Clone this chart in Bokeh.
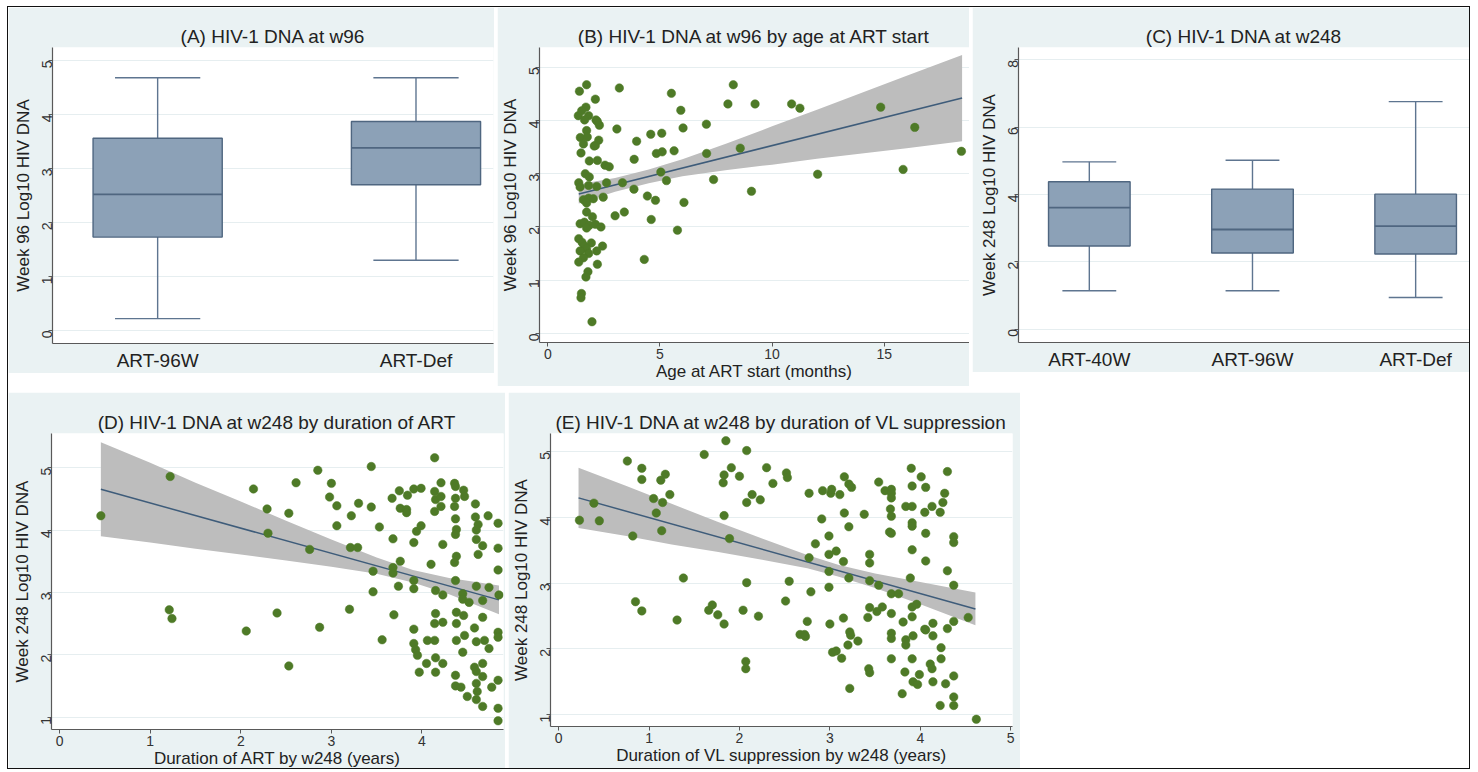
import math
from bokeh.plotting import figure
from bokeh.models import FixedTicker, Range1d, ColumnDataSource
from bokeh.layouts import row, column
from bokeh.embed import file_html
from bokeh.resources import INLINE

# ---------------- data ----------------
# (A) HIV-1 DNA at w96
a_groups = ["ART-96W", "ART-Def"]
a_lo = [0.22, 1.30]
a_q1 = [1.73, 2.70]
a_med = [2.52, 3.38]
a_q3 = [3.56, 3.87]
a_hi = [4.68, 4.68]

# (C) HIV-1 DNA at w248
c_groups = ["ART-40W", "ART-96W", "ART-Def"]
c_lo = [1.14, 1.14, 0.94]
c_q1 = [2.47, 2.26, 2.23]
c_med = [3.61, 2.96, 3.06]
c_q3 = [4.38, 4.16, 4.01]
c_hi = [4.97, 5.02, 6.76]

# (B) age at ART start (months) vs week-96 log10 HIV DNA
b_age = [1.41, 1.73, 2.12, 3.19, 5.51, 8.27, 8.03, 9.24, 10.87, 11.24, 14.84,
         1.70, 5.93, 1.36, 1.51, 1.82, 1.64, 2.15, 2.30, 2.21, 3.08, 6.03, 7.07,
         16.36, 1.73, 1.45, 1.59, 1.76, 4.59, 5.08, 3.96, 2.12, 2.27, 2.07, 1.48,
         5.63, 4.84, 5.10, 7.08, 8.58, 18.44, 1.85, 2.21, 3.85, 2.55, 2.74, 1.67,
         1.85, 5.04, 12.03, 15.84, 1.38, 1.44, 1.82, 2.18, 2.62, 3.33, 5.29, 7.39,
         3.84, 9.08, 1.59, 1.82, 2.03, 2.47, 4.44, 4.80, 6.07, 1.73, 1.73, 3.00,
         3.41, 4.61, 1.44, 1.63, 1.85, 1.99, 2.12, 2.37, 1.73, 5.78, 1.38, 1.53,
         1.94, 1.63, 2.44, 1.73, 1.82, 1.44, 2.18, 1.59, 1.38, 4.30, 2.21, 1.79,
         1.70, 1.50, 1.48, 1.97]
b_dna = [4.55, 4.67, 4.40, 4.61, 4.51, 4.67, 4.31, 4.31, 4.31, 4.23, 4.25,
         4.25, 4.19, 4.09, 4.18, 4.09, 4.01, 4.01, 3.91, 3.98, 3.84, 3.86, 3.93,
         3.87, 3.81, 3.68, 3.56, 3.69, 3.74, 3.76, 3.61, 3.53, 3.63, 3.52, 3.39,
         3.43, 3.38, 3.41, 3.38, 3.48, 3.42, 3.24, 3.25, 3.27, 3.16, 3.13, 3.00,
         2.94, 3.03, 2.99, 3.08, 2.83, 2.75, 2.78, 2.76, 2.83, 2.83, 2.87, 2.89,
         2.71, 2.67, 2.51, 2.54, 2.53, 2.56, 2.58, 2.50, 2.46, 2.45, 2.28, 2.21,
         2.28, 2.14, 2.06, 2.09, 2.03, 2.19, 2.05, 2.00, 1.98, 1.94, 1.78, 1.71,
         1.70, 1.64, 1.64, 1.59, 1.50, 1.55, 1.55, 1.42, 1.34, 1.39, 1.30, 1.16,
         1.06, 0.75, 0.67, 0.22]
b_fit_x = [1.38, 18.47]
b_fit_y = [2.62, 4.42]
b_ci_x = [1.38, 3.0, 4.5, 6.0, 8.0, 10.0, 12.0, 14.0, 16.0, 18.47]
b_ci_lo = [2.44, 2.66, 2.82, 2.95, 3.07, 3.17, 3.28, 3.38, 3.48, 3.61]
b_ci_hi = [2.80, 2.92, 3.08, 3.27, 3.57, 3.89, 4.20, 4.52, 4.84, 5.23]

# (D) duration of ART by w248 (years) vs week-248 log10 HIV DNA
d_dur = [0.455, 1.22, 1.21, 1.24, 2.06, 2.14, 2.29, 2.30, 2.40, 2.53, 2.53, 2.61,
         2.76, 2.85, 2.87, 2.98, 3.00, 3.06, 3.06, 3.20, 3.22, 3.21, 3.29, 3.30,
         3.44, 3.44, 3.46, 3.46, 3.53, 3.56, 3.67, 3.68, 3.68, 3.68, 3.69, 3.75,
         3.76, 3.76, 3.74, 3.83, 3.84, 3.83, 3.91, 3.91, 3.94, 3.91, 3.91, 3.91,
         3.91, 3.93, 3.95, 3.97, 3.99, 3.99, 4.05, 4.10, 4.06, 4.14, 4.14, 4.15,
         4.14, 4.15, 4.14, 4.14, 4.15, 4.15, 4.15, 4.21, 4.21, 4.21, 4.23, 4.23,
         4.23, 4.23, 4.36, 4.37, 4.37, 4.36, 4.37, 4.38, 4.37, 4.38, 4.36, 4.37,
         4.38, 4.38, 4.38, 4.37, 4.37, 4.46, 4.47, 4.45, 4.45, 4.46, 4.47, 4.45,
         4.43, 4.50, 4.52, 4.62, 4.59, 4.59, 4.60, 4.60, 4.62, 4.60, 4.58, 4.60,
         4.58, 4.60, 4.60, 4.61, 4.60, 4.67, 4.67, 4.67, 4.69, 4.67, 4.67, 4.67,
         4.73, 4.74, 4.74, 4.77, 4.84, 4.84, 4.84, 4.85, 4.84, 4.84, 4.84, 4.84,
         4.84]
d_dna = [4.23, 4.86, 2.72, 2.58, 2.38, 4.66, 4.34, 3.95, 2.67, 4.27, 1.82, 4.76,
         3.69, 4.96, 2.44, 4.53, 4.75, 4.39, 4.07, 2.73, 4.23, 3.72, 3.72, 4.43,
         5.02, 4.37, 3.34, 3.01, 4.05, 2.24, 4.51, 3.86, 3.40, 3.31, 2.64, 4.63,
         4.35, 3.50, 3.10, 4.33, 4.56, 4.28, 4.66, 3.80, 3.98, 3.19, 3.06, 2.41,
         2.18, 2.08, 1.99, 1.72, 4.67, 4.07, 1.86, 3.45, 2.23, 5.16, 4.62, 4.49,
         4.30, 2.66, 2.50, 2.23, 1.95, 1.72, 3.03, 4.76, 4.54, 4.38, 3.77, 2.96,
         2.52, 1.86, 4.75, 4.70, 4.51, 4.38, 4.18, 4.01, 3.93, 3.58, 3.48, 3.19,
         2.68, 2.50, 2.23, 1.67, 1.50, 4.64, 4.54, 2.98, 2.89, 2.63, 2.31, 2.04,
         1.48, 1.33, 2.84, 4.09, 4.42, 4.21, 4.00, 3.85, 3.61, 3.10, 2.43, 2.21,
         1.80, 1.73, 1.54, 1.41, 1.28, 3.75, 2.87, 2.60, 2.23, 1.86, 1.65, 1.17,
         4.23, 3.08, 2.10, 1.48, 4.11, 3.71, 3.36, 2.96, 2.36, 2.28, 1.59, 1.14,
         0.94]
d_fit_x = [0.455, 4.85]
d_fit_y = [4.655, 2.88]
d_ci_x = [0.455, 1.0, 1.5, 2.0, 2.5, 3.0, 3.5, 3.9, 4.3, 4.85]
d_ci_lo = [3.90, 3.80, 3.70, 3.61, 3.51, 3.41, 3.30, 3.16, 2.97, 2.65]
d_ci_hi = [5.41, 5.08, 4.76, 4.46, 4.15, 3.85, 3.56, 3.36, 3.23, 3.11]

# (E) duration of VL suppression by w248 (years) vs week-248 log10 HIV DNA
e_dur = [0.23, 0.39, 0.45, 0.76, 0.82, 0.85, 0.92, 0.92, 0.92, 1.05, 1.08, 1.13,
         1.18, 1.15, 1.14, 1.23, 1.31, 1.38, 1.61, 1.66, 1.70, 1.76, 1.83, 1.82,
         1.83, 1.83, 1.85, 1.89, 1.91, 2.00, 2.04, 2.08, 2.08, 2.08, 2.07, 2.07,
         2.14, 2.21, 2.23, 2.30, 2.37, 2.52, 2.53, 2.51, 2.55, 2.67, 2.72, 2.73,
         2.75, 2.77, 2.77, 2.79, 2.84, 2.91, 2.92, 2.99, 2.99, 2.99, 2.99, 3.00,
         3.01, 3.02, 3.03, 3.07, 3.07, 3.11, 3.13, 3.15, 3.15, 3.16, 3.16, 3.21,
         3.21, 3.20, 3.21, 3.24, 3.22, 3.23, 3.22, 3.31, 3.38, 3.42, 3.44, 3.44,
         3.44, 3.44, 3.43, 3.44, 3.54, 3.54, 3.52, 3.58, 3.61, 3.68, 3.68, 3.68,
         3.67, 3.68, 3.66, 3.68, 3.68, 3.68, 3.68, 3.68, 3.68, 3.76, 3.81, 3.80,
         3.84, 3.84, 3.84, 3.83, 3.89, 3.90, 3.91, 3.91, 3.91, 3.91, 3.91, 3.91,
         3.91, 3.92, 3.91, 3.92, 3.96, 3.97, 3.99, 4.01, 4.05, 4.06, 4.06, 4.06,
         4.05, 4.06, 4.11, 4.13, 4.13, 4.14, 4.14, 4.14, 4.22, 4.22, 4.23, 4.23,
         4.25, 4.27, 4.30, 4.30, 4.30, 4.28, 4.37, 4.37, 4.37, 4.37, 4.37, 4.37,
         4.37, 4.53, 4.62]
e_dna = [3.96, 4.22, 3.95, 4.86, 3.72, 2.72, 4.75, 4.58, 2.58, 4.29, 4.07, 4.57,
         4.66, 4.23, 3.80, 4.35, 2.44, 3.08, 4.96, 2.59, 2.67, 2.52, 2.38, 4.53,
         4.65, 4.03, 5.17, 3.68, 4.76, 4.63, 2.59, 5.02, 4.23, 3.01, 1.81, 1.70,
         4.35, 2.50, 4.27, 4.76, 4.52, 4.68, 4.61, 2.73, 3.03, 2.22, 2.22, 2.19,
         2.42, 4.37, 3.39, 2.87, 3.60, 3.98, 4.41, 3.72, 3.44, 3.18, 2.94, 2.38,
         4.37, 4.43, 1.95, 1.97, 3.49, 4.35, 1.86, 2.47, 3.33, 4.62, 4.07, 3.08,
         3.86, 2.06, 4.51, 4.46, 2.26, 2.21, 1.40, 2.12, 4.05, 2.48, 3.44, 3.31,
         3.04, 2.63, 1.70, 1.64, 4.54, 2.97, 2.57, 2.64, 4.41, 4.43, 4.37, 4.30,
         4.13, 4.02, 3.78, 3.76, 2.84, 2.54, 2.24, 2.16, 1.85, 2.84, 2.41, 1.32,
         4.17, 2.14, 2.06, 1.65, 3.08, 4.75, 4.48, 4.17, 3.92, 3.87, 3.51, 2.64,
         2.49, 2.20, 1.85, 1.50, 2.68, 1.46, 1.61, 4.62, 4.08, 4.46, 3.76, 3.34,
         2.30, 2.29, 1.77, 1.70, 4.17, 2.39, 2.20, 1.50, 1.14, 4.08, 2.02, 1.85,
         4.23, 4.37, 4.70, 3.19, 2.31, 1.47, 3.71, 3.62, 2.97, 2.42, 1.59, 1.27,
         1.14, 2.48, 0.93]
e_fit_x = [0.22, 4.61]
e_fit_y = [4.30, 2.61]
e_ci_x = [0.22, 0.75, 1.25, 1.75, 2.25, 2.75, 3.1, 3.5, 4.0, 4.61]
e_ci_lo = [3.84, 3.72, 3.59, 3.48, 3.36, 3.23, 3.10, 2.93, 2.68, 2.36]
e_ci_hi = [4.76, 4.48, 4.21, 3.94, 3.68, 3.43, 3.28, 3.15, 3.02, 2.86]

# ---------------- style ----------------
FONT = "Liberation Sans"
PANEL_BG = "#EAF2F3"
GRID = "#E6EEF0"
AXIS = "#595959"
TEXT = "#222222"
BOX_FILL = "#8CA1B7"
BOX_LINE = "#4F6680"
WHISK = "#5E7590"
DOT = "#4E7A27"
FIT = "#3E5C7A"
BAND = "#BDBDBD"


def base_fig(title, fw, fh, xr, yr, left, right, top, bottom):
    p = figure(frame_width=fw, frame_height=fh, x_range=Range1d(*xr), y_range=Range1d(*yr),
               output_backend="svg", toolbar_location=None,
               min_border_left=left, min_border_right=right,
               min_border_top=top, min_border_bottom=bottom)
    p.title.text = title
    p.title.align = "center"
    p.title.text_font = FONT
    p.title.text_font_size = "19px"
    p.title.text_font_style = "normal"
    p.title.text_color = TEXT
    p.title.offset = 0
    p.title.standoff = 2
    p.background_fill_color = "white"
    p.border_fill_color = PANEL_BG
    p.outline_line_color = None
    p.xgrid.visible = False
    p.ygrid.grid_line_color = GRID
    p.ygrid.grid_line_width = 1
    for ax in (p.xaxis[0], p.yaxis[0]):
        ax.axis_line_color = AXIS
        ax.axis_line_width = 1.2
        ax.major_tick_line_color = AXIS
        ax.major_tick_out = 4
        ax.major_tick_in = 0
        ax.minor_tick_line_color = None
        ax.major_label_text_font = FONT
        ax.major_label_text_font_size = "14px"
        ax.major_label_text_color = "#333333"
        ax.axis_label_text_font = FONT
        ax.axis_label_text_font_size = "17px"
        ax.axis_label_text_font_style = "normal"
        ax.axis_label_text_color = TEXT
        ax.major_label_standoff = 2
        ax.axis_label_standoff = 3
    p.yaxis[0].major_label_orientation = math.pi / 2
    p.yaxis[0].major_label_standoff = 1
    p.yaxis[0].axis_label_standoff = 2
    return p


def box_panel(p, groups, lo, q1, med, q3, hi):
    pos = list(range(1, len(groups) + 1))
    bw = 0.5   # box width in category units
    cw = 0.33  # cap width in category units
    src = ColumnDataSource(dict(
        x=pos, lo=lo, q1=q1, med=med, q3=q3, hi=hi,
        bl=[v - bw / 2 for v in pos], br=[v + bw / 2 for v in pos],
        cl=[v - cw / 2 for v in pos], cr=[v + cw / 2 for v in pos]))
    p.segment(x0="x", y0="lo", x1="x", y1="q1", source=src, line_color=WHISK, line_width=1.4)
    p.segment(x0="x", y0="q3", x1="x", y1="hi", source=src, line_color=WHISK, line_width=1.4)
    p.segment(x0="cl", y0="lo", x1="cr", y1="lo", source=src, line_color=WHISK, line_width=1.4)
    p.segment(x0="cl", y0="hi", x1="cr", y1="hi", source=src, line_color=WHISK, line_width=1.4)
    p.vbar(x="x", bottom="q1", top="q3", width=bw, source=src,
           fill_color=BOX_FILL, line_color=BOX_LINE, line_width=1.4)
    p.segment(x0="bl", y0="med", x1="br", y1="med", source=src, line_color=BOX_LINE, line_width=1.8)
    ax = p.xaxis[0]
    ax.ticker = FixedTicker(ticks=pos)
    ax.major_label_overrides = {k: g for k, g in zip(pos, groups)}
    ax.major_label_text_font_size = "19px"
    ax.major_label_text_color = TEXT
    ax.major_tick_line_color = None
    ax.major_tick_out = 0
    ax.major_label_standoff = 6
    ax.axis_label_standoff = 0


def scatter_panel(p, x, y, fx, fy, cx, clo, chi):
    p.varea(x=cx, y1=clo, y2=chi, fill_color=BAND, fill_alpha=1.0)
    p.line(fx, fy, line_color=FIT, line_width=1.5)
    p.scatter(x, y, size=8.5, fill_color=DOT, line_color=DOT, line_width=0.5)


# (A)
pA = base_fig("(A) HIV-1 DNA at w96", 441, 296, (0.593, 2.30), (-0.24, 5.24), 44, 1, 40, 29)
box_panel(pA, a_groups, a_lo, a_q1, a_med, a_q3, a_hi)
pA.yaxis[0].axis_label = "Week 96 Log10 HIV DNA"
pA.yaxis[0].ticker = FixedTicker(ticks=[0, 1, 2, 3, 4, 5])

# (B)
pB = base_fig("(B) HIV-1 DNA at w96 by age at ART start", 430, 295, (-0.37, 18.8), (-0.17, 5.37), 42, 0, 40, 44)
scatter_panel(pB, b_age, b_dna, b_fit_x, b_fit_y, b_ci_x, b_ci_lo, b_ci_hi)
pB.yaxis[0].axis_label = "Week 96 Log10 HIV DNA"
pB.xaxis[0].axis_label = "Age at ART start (months)"
pB.yaxis[0].ticker = FixedTicker(ticks=[0, 1, 2, 3, 4, 5])
pB.xaxis[0].ticker = FixedTicker(ticks=[0, 5, 10, 15])
pB.xaxis[0].axis_label_standoff = 0

# (C)
pC = base_fig("(C) HIV-1 DNA at w248", 451, 295, (0.566, 3.33), (-0.4, 8.37), 46, 0, 40, 30)
box_panel(pC, c_groups, c_lo, c_q1, c_med, c_q3, c_hi)
pC.yaxis[0].axis_label = "Week 248 Log10 HIV DNA"
pC.yaxis[0].ticker = FixedTicker(ticks=[0, 2, 4, 6, 8])

# (D)
pD = base_fig("(D) HIV-1 DNA at w248 by duration of ART", 452, 296, (-0.09, 4.9), (0.8, 5.55), 43, 2, 38, 42)
scatter_panel(pD, d_dur, d_dna, d_fit_x, d_fit_y, d_ci_x, d_ci_lo, d_ci_hi)
pD.yaxis[0].axis_label = "Week 248 Log10 HIV DNA"
pD.xaxis[0].axis_label = "Duration of ART by w248 (years)"
pD.yaxis[0].ticker = FixedTicker(ticks=[1, 2, 3, 4, 5])
pD.xaxis[0].ticker = FixedTicker(ticks=[0, 1, 2, 3, 4])
pD.xaxis[0].axis_label_standoff = 0

# (E)
pE = base_fig("(E) HIV-1 DNA at w248 by duration of VL suppression", 462, 293, (-0.09, 5.02), (0.82, 5.28), 42, 8, 41, 42)
scatter_panel(pE, e_dur, e_dna, e_fit_x, e_fit_y, e_ci_x, e_ci_lo, e_ci_hi)
pE.yaxis[0].axis_label = "Week 248 Log10 HIV DNA"
pE.xaxis[0].axis_label = "Duration of VL suppression by w248 (years)"
pE.yaxis[0].ticker = FixedTicker(ticks=[1, 2, 3, 4, 5])
pE.xaxis[0].ticker = FixedTicker(ticks=[0, 1, 2, 3, 4, 5])
pE.xaxis[0].axis_label_standoff = 0

top = row(pA, pB, pC, spacing=3)
bottom = row(pD, pE, spacing=3)
layout = column(top, bottom, spacing=6,
                styles={"border": "1px solid #111", "margin-left": "7px", "margin-top": "6px"})

open("out.html", "w").write(file_html(layout, INLINE))
